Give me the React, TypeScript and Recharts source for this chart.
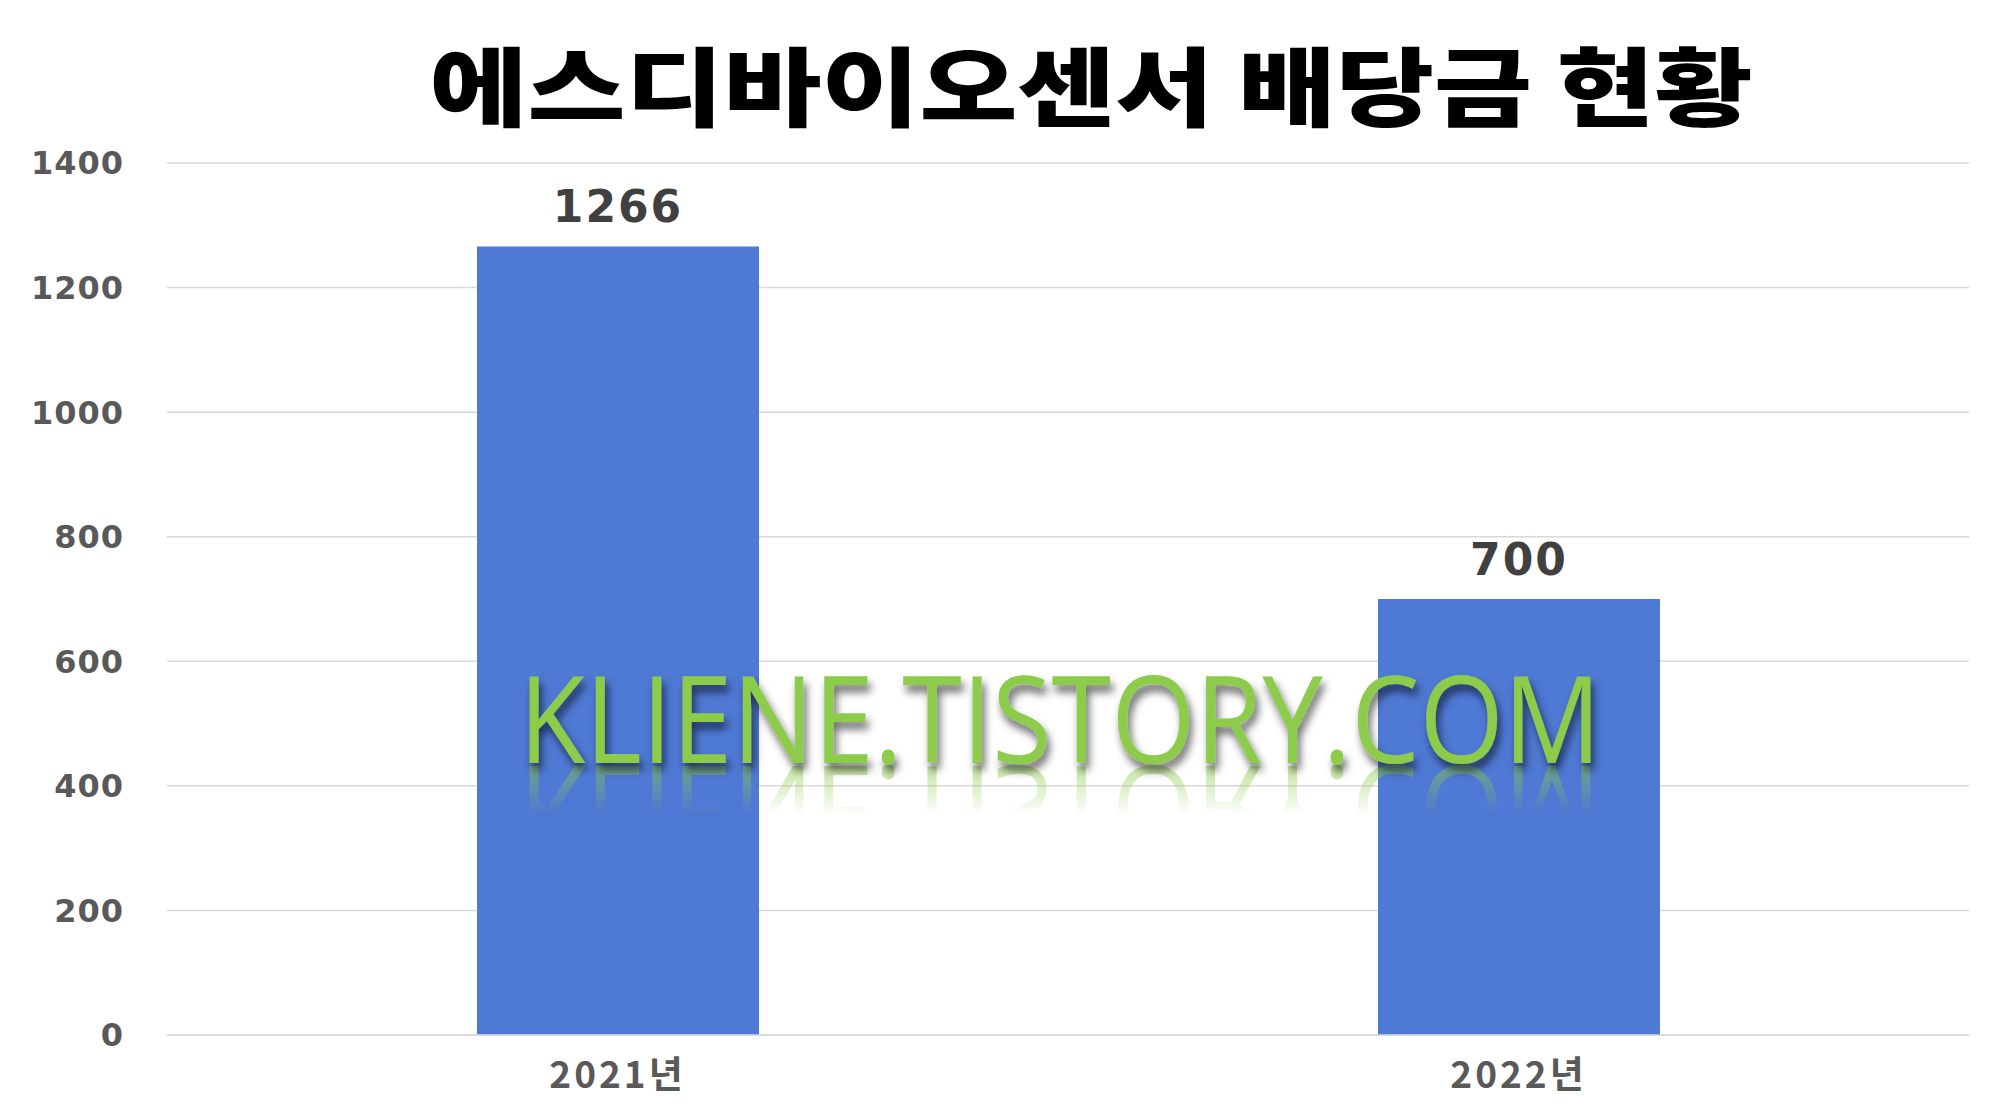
import React from 'react';
import { BarChart, Bar, XAxis, YAxis, CartesianGrid, LabelList } from 'recharts';

const categories: string[] = ['2021년', '2022년'];
const dividends: number[] = [1266, 700];
const yTicks: number[] = [0, 200, 400, 600, 800, 1000, 1200, 1400];
const titleText = '에스디바이오센서 배당금 현황';
const watermarkText = 'KLIENE.TISTORY.COM';

const data = categories.map((c, i) => ({ name: c, value: dividends[i] }));

const YTick = (props: any) => {
  const { x, y, payload } = props;
  return (
    <text x={x} y={y} dy="0.355em" textAnchor="end" fill="#595959" fontSize={32} fontWeight={700}
      letterSpacing={1} fontFamily="DejaVu Sans, Verdana, sans-serif">
      {payload.value}
    </text>
  );
};

const XTick = (props: any) => {
  const { x, y, payload } = props;
  return (
    <text x={x} y={y} dy="0.71em" textAnchor="middle" fill="#595959" fontSize={37} fontWeight={700}
      letterSpacing={3} fontFamily="'Noto Sans CJK KR', sans-serif">
      {payload.value}
    </text>
  );
};

export default function App() {
  return (
    <div style={{ position: 'absolute', left: 0, top: 0, width: 2014, height: 1118, background: '#ffffff', overflow: 'hidden' }}>
      <BarChart width={2014} height={1118} data={data} margin={{ top: 163, right: 45, bottom: 0, left: 0 }}>
        <CartesianGrid horizontal vertical={false} stroke="#d9d9d9" strokeWidth={1.5} />
        <XAxis dataKey="name" height={83} tickLine={false} tickSize={0} tickMargin={27}
          axisLine={{ stroke: '#d9d9d9', strokeWidth: 1.5 }} tick={<XTick />} interval={0} />
        <YAxis width={167} domain={[0, 1400]} ticks={yTicks} tickLine={false} axisLine={false}
          tickSize={0} tickMargin={43} tick={<YTick />} interval={0} />
        <Bar dataKey="value" fill="#4E79D4" barSize={282} isAnimationActive={false}>
          <LabelList dataKey="value" position="top" offset={24} fill="#404040" fontSize={44}
            fontWeight={700} letterSpacing={2} fontFamily="DejaVu Sans, Verdana, sans-serif" />
        </Bar>
      </BarChart>
      <svg width={2014} height={1118} style={{ position: 'absolute', left: 0, top: 0, pointerEvents: 'none' }}>
        <defs>
          <filter id="wmShadow" x="-10%" y="-30%" width="120%" height="160%">
            <feDropShadow dx="3" dy="7" stdDeviation="4" floodColor="#000000" floodOpacity="0.6" />
          </filter>
          <linearGradient id="reflGrad" gradientUnits="userSpaceOnUse" x1="0" y1="764" x2="0" y2="815">
            <stop offset="0" stopColor="#ffffff" stopOpacity="0.55" />
            <stop offset="1" stopColor="#ffffff" stopOpacity="0" />
          </linearGradient>
          <mask id="reflMask" maskUnits="userSpaceOnUse" x="0" y="0" width="2014" height="1118">
            <rect x="0" y="764" width="2014" height="60" fill="url(#reflGrad)" />
          </mask>
        </defs>
        <text x={1091} y={120} textAnchor="middle" fontSize={86} fontWeight={900} fill="#000000"
          fontFamily="'Noto Sans CJK KR', sans-serif" textLength={1323} lengthAdjust="spacingAndGlyphs">
          {titleText}
        </text>
        <g mask="url(#reflMask)">
          <g transform="translate(0, 1530) scale(1, -1)">
            <text x={1060} y={764} textAnchor="middle" fontSize={120} fontWeight={400} fill="#8DCB4B"
              fontFamily="'Open Sans', sans-serif" textLength={1082} lengthAdjust="spacingAndGlyphs">
              {watermarkText}
            </text>
          </g>
        </g>
        <text x={1060} y={763} textAnchor="middle" fontSize={120} fontWeight={400} fill="#8DCB4B"
          fontFamily="'Open Sans', sans-serif" textLength={1082} lengthAdjust="spacingAndGlyphs"
          filter="url(#wmShadow)">
          {watermarkText}
        </text>
      </svg>
    </div>
  );
}
